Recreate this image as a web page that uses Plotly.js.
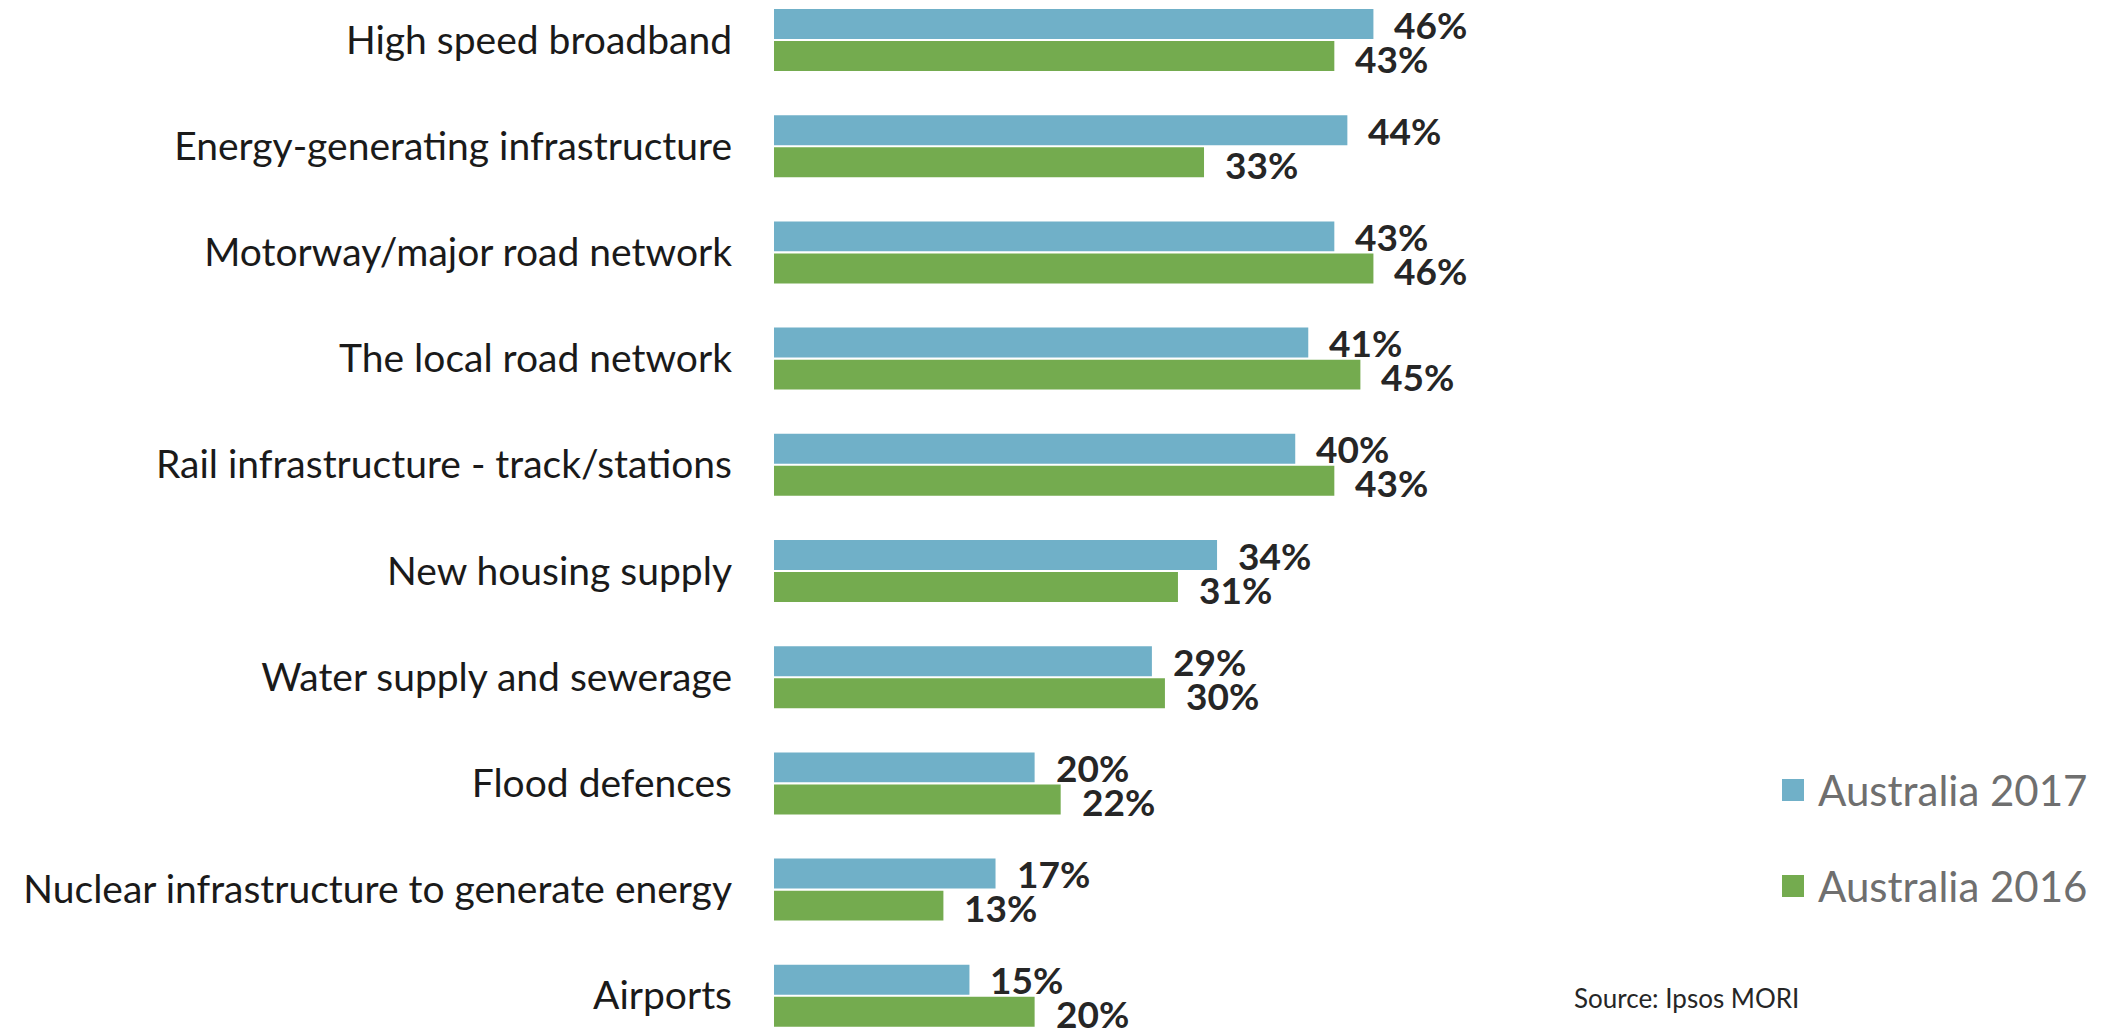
<!DOCTYPE html>
<html>
<head>
<meta charset="utf-8">
<script src="https://cdn.plot.ly/plotly-3.0.1.min.js"></script>
<style>html,body{margin:0;padding:0;background:#fff;}#chart{width:2124px;height:1029px;}</style>
</head>
<body>
<div id="chart"></div>
<script>
const categories = [
  "High speed broadband",
  "Energy-generating infrastructure",
  "Motorway/major road network",
  "The local road network",
  "Rail infrastructure - track/stations",
  "New housing supply",
  "Water supply and sewerage",
  "Flood defences",
  "Nuclear infrastructure to generate energy",
  "Airports"
];
const seriesNames = ["Australia 2017", "Australia 2016"];
const values2017 = [46, 44, 43, 41, 40, 34, 29, 20, 17, 15];
const values2016 = [43, 33, 46, 45, 43, 31, 30, 22, 13, 20];
const sourceText = "Source: Ipsos MORI";

const W = 2124, H = 1029, L = 774;
const colors = ["#70b0c8", "#74ab4f"];
const FONT = "Lato, 'Open Sans', sans-serif";

function px2x(px) { return (px - L) / (W - L); }
function py2y(py) { return 1 - py / H; }

const traces = [values2017, values2016].map((vals, k) => ({
  type: "bar",
  orientation: "h",
  name: seriesNames[k],
  x: vals,
  y: categories,
  marker: { color: colors[k], line: { width: 0 } },
  hoverinfo: "x+y+name"
}));

const annotations = [];
[values2017, values2016].forEach((vals, k) => {
  vals.forEach((v, i) => {
    annotations.push({
      x: v, y: categories[i], xref: "x", yref: "y",
      text: v + "%", showarrow: false,
      xanchor: "left", yanchor: "middle",
      xshift: 19, yshift: k === 0 ? 16 : -18,
      font: { family: FONT, size: 37, color: "#262626", weight: "bold" }
    });
  });
});

// legend (custom, to match large swatches)
const shapes = [];
seriesNames.forEach((nm, k) => {
  const cy = 790 + k * 96;
  shapes.push({
    type: "rect", xref: "paper", yref: "paper",
    x0: px2x(1782), x1: px2x(1804), y0: py2y(cy - 11), y1: py2y(cy + 11),
    fillcolor: colors[k], line: { width: 0 }
  });
  annotations.push({
    x: px2x(1816), y: py2y(cy), xref: "paper", yref: "paper",
    text: nm, showarrow: false, xanchor: "left", yanchor: "middle",
    font: { family: FONT, size: 42, color: "#6f6f6f" }
  });
});
annotations.push({
  x: px2x(1572), y: py2y(998), xref: "paper", yref: "paper",
  text: sourceText, showarrow: false, xanchor: "left", yanchor: "middle",
  font: { family: FONT, size: 26, color: "#262626" }
});

const layout = {
  width: W, height: H,
  margin: { l: L, r: 0, t: 0, b: 0, pad: 0 },
  paper_bgcolor: "#ffffff", plot_bgcolor: "#ffffff",
  showlegend: false,
  barmode: "group",
  bargap: 0.397,
  bargroupgap: 0.065,
  xaxis: { range: [0, 103.6], visible: false, fixedrange: true },
  yaxis: {
    type: "category",
    autorange: false,
    range: [9.3126, -0.3766],
    showgrid: false, zeroline: false, showline: false,
    ticks: "", ticklabelstandoff: 41,
    tickfont: { family: FONT, size: 39, color: "#1a1a1a" },
    fixedrange: true
  },
  shapes: shapes,
  annotations: annotations
};

Plotly.newPlot("chart", traces, layout, { displayModeBar: false, staticPlot: false });
</script>
</body>
</html>
